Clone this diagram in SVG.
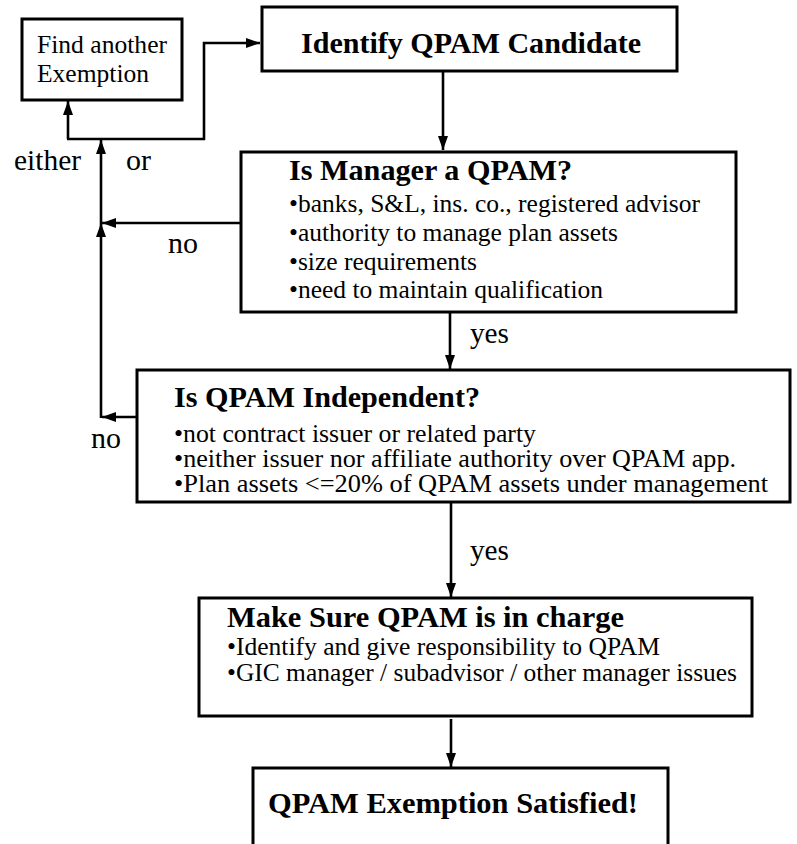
<svg xmlns="http://www.w3.org/2000/svg" width="797" height="844" viewBox="0 0 797 844">
<style>
  .box{fill:#fff;stroke:#000;stroke-width:3}
  text{font-family:'Liberation Serif',LiberationSerif,Tinos,'Times New Roman','DejaVu Serif Condensed',serif;fill:#000}
  .h{font-weight:bold;font-size:30px}
  .b{font-size:25.5px}
  .b26{font-size:26px}
  .lbl{font-size:29px}
  .c{fill:none;stroke:#000;stroke-width:2.6}
</style>
<defs>
  <marker id="ah" viewBox="0 0 14 10" refX="14" refY="5" markerWidth="14" markerHeight="10" markerUnits="userSpaceOnUse" orient="auto">
    <path d="M0,0 L14,5 L0,10 z" fill="#000"/>
  </marker>
</defs>
<rect width="797" height="844" fill="#fff"/>

<g id="connectors">
  <line class="c" x1="443" y1="71" x2="443" y2="150" marker-end="url(#ah)"/>
  <line class="c" x1="450" y1="313" x2="450" y2="369" marker-end="url(#ah)"/>
  <line class="c" x1="451" y1="502" x2="451" y2="597" marker-end="url(#ah)"/>
  <line class="c" x1="451" y1="719" x2="451" y2="767" marker-end="url(#ah)"/>
  <line class="c" x1="241" y1="223" x2="102" y2="223" marker-end="url(#ah)"/>
  <line class="c" x1="137" y1="417" x2="102" y2="417" marker-end="url(#ah)"/>
  <line class="c" x1="101" y1="418" x2="101" y2="223" marker-end="url(#ah)"/>
  <line class="c" x1="101" y1="223" x2="101" y2="140" marker-end="url(#ah)"/>
  <line class="c" x1="67" y1="139" x2="205" y2="139"/>
  <line class="c" x1="68" y1="139" x2="68" y2="101" marker-end="url(#ah)"/>
  <polyline class="c" points="204,140 204,43 260,43" marker-end="url(#ah)"/>
  <text class="lbl" x="14" y="170" textLength="67" lengthAdjust="spacingAndGlyphs">either</text>
  <text class="lbl" x="126" y="170" textLength="25" lengthAdjust="spacingAndGlyphs">or</text>
  <text class="lbl" x="168" y="253" textLength="30" lengthAdjust="spacingAndGlyphs">no</text>
  <text class="lbl" x="91" y="448" textLength="30" lengthAdjust="spacingAndGlyphs">no</text>
  <text class="lbl" x="470" y="343" textLength="39" lengthAdjust="spacingAndGlyphs">yes</text>
  <text class="lbl" x="470" y="560" textLength="39" lengthAdjust="spacingAndGlyphs">yes</text>
</g>

<g id="find-another">
  <rect class="box" x="22" y="19" width="160" height="81"/>
  <text x="37" y="53" font-size="25.5" textLength="130" lengthAdjust="spacingAndGlyphs">Find another</text>
  <text x="37" y="82" font-size="25.5" textLength="112" lengthAdjust="spacingAndGlyphs">Exemption</text>
</g>

<g id="identify">
  <rect class="box" x="262" y="7" width="415" height="64"/>
  <text class="h" x="301" y="53" textLength="340" lengthAdjust="spacingAndGlyphs">Identify QPAM Candidate</text>
</g>

<g id="manager">
  <rect class="box" x="241" y="152" width="495" height="160"/>
  <text class="h" x="289" y="180" textLength="283" lengthAdjust="spacingAndGlyphs">Is Manager a QPAM?</text>
  <text class="b" x="289" y="212" textLength="411" lengthAdjust="spacingAndGlyphs">•banks, S&amp;L, ins. co., registered advisor</text>
  <text class="b" x="289" y="241" textLength="329" lengthAdjust="spacingAndGlyphs">•authority to manage plan assets</text>
  <text class="b" x="289" y="270" textLength="188" lengthAdjust="spacingAndGlyphs">•size requirements</text>
  <text class="b" x="289" y="298" textLength="314" lengthAdjust="spacingAndGlyphs">•need to maintain qualification</text>
</g>

<g id="independent">
  <rect class="box" x="137" y="370" width="653" height="132"/>
  <text class="h" x="174" y="407" textLength="306" lengthAdjust="spacingAndGlyphs">Is QPAM Independent?</text>
  <text class="b26" x="174" y="442" textLength="362" lengthAdjust="spacingAndGlyphs">•not contract issuer or related party</text>
  <text class="b26" x="174" y="467" textLength="562" lengthAdjust="spacingAndGlyphs">•neither issuer nor affiliate authority over QPAM app.</text>
  <text class="b26" x="174" y="492" textLength="594" lengthAdjust="spacingAndGlyphs">•Plan assets &lt;=20% of QPAM assets under management</text>
</g>

<g id="make-sure">
  <rect class="box" x="199" y="598" width="553" height="118"/>
  <text class="h" x="227" y="627" textLength="397" lengthAdjust="spacingAndGlyphs">Make Sure QPAM is in charge</text>
  <text class="b" x="227" y="655" textLength="433" lengthAdjust="spacingAndGlyphs">•Identify and give responsibility to QPAM</text>
  <text class="b" x="227" y="681" textLength="510" lengthAdjust="spacingAndGlyphs">•GIC manager / subadvisor / other manager issues</text>
</g>

<g id="satisfied">
  <rect class="box" x="253" y="768" width="415" height="80"/>
  <text class="h" x="268" y="813" textLength="370" lengthAdjust="spacingAndGlyphs">QPAM Exemption Satisfied!</text>
</g>
</svg>
